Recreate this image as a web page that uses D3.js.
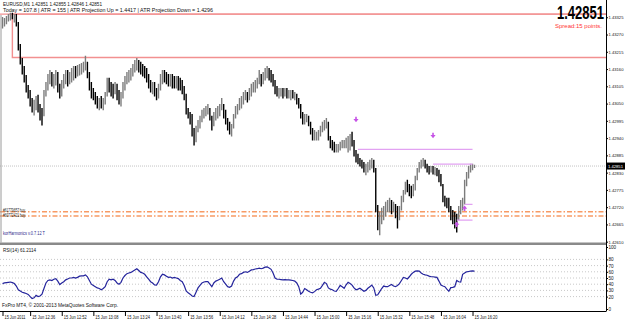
<!DOCTYPE html>
<html><head><meta charset="utf-8">
<script src="https://cdn.jsdelivr.net/npm/d3@7"></script>
<style>
html,body{margin:0;padding:0;background:#fff;}
svg{display:block;}
text{font-family:"Liberation Sans",Arial,sans-serif;}
</style></head>
<body>
<script>
// ---------- DATA ----------
const symbol = "EURUSD,M1";
const firstOpen = 1.43297;
const highs = [1.43326,1.43323,1.43329,1.43335,1.43339,1.43339,1.43335,1.43335,1.43310,1.43240,
1.43195,1.43170,1.43141,1.43109,1.43093,1.43068,1.43062,1.43074,1.43078,1.43049,
1.43036,1.43093,1.43119,1.43144,1.43157,1.43151,1.43144,1.43157,1.43151,1.43113,
1.43125,1.43144,1.43157,1.43157,1.43151,1.43163,1.43170,1.43170,1.43173,1.43176,
1.43179,1.43183,1.43202,1.43183,1.43151,1.43119,1.43100,1.43087,1.43074,1.43068,
1.43074,1.43068,1.43087,1.43132,1.43132,1.43119,1.43113,1.43119,1.43113,1.43093,
1.43087,1.43119,1.43138,1.43151,1.43157,1.43163,1.43176,1.43189,1.43195,1.43189,
1.43183,1.43176,1.43170,1.43163,1.43144,1.43125,1.43119,1.43119,1.43100,1.43113,
1.43144,1.43157,1.43157,1.43151,1.43144,1.43144,1.43144,1.43138,1.43138,1.43138,
1.43132,1.43125,1.43106,1.43081,1.43036,1.43023,1.43017,1.42972,1.42979,1.42998,
1.43011,1.43030,1.43036,1.43042,1.43049,1.43036,1.43011,1.43023,1.43036,1.43042,
1.43049,1.43068,1.43049,1.43030,1.43004,1.42992,1.42985,1.43017,1.43042,1.43049,
1.43068,1.43074,1.43087,1.43093,1.43087,1.43100,1.43113,1.43119,1.43125,1.43132,
1.43157,1.43144,1.43151,1.43163,1.43170,1.43163,1.43157,1.43144,1.43125,1.43106,
1.43100,1.43100,1.43100,1.43100,1.43100,1.43093,1.43093,1.43093,1.43087,1.43081,
1.43068,1.43049,1.43023,1.43017,1.43017,1.43011,1.42992,1.42972,1.42966,1.42960,
1.42966,1.42979,1.42992,1.42998,1.43004,1.42992,1.42947,1.42934,1.42928,1.42921,
1.42921,1.42928,1.42934,1.42934,1.42941,1.42947,1.42953,1.42960,1.42934,1.42902,
1.42890,1.42877,1.42871,1.42864,1.42858,1.42864,1.42871,1.42877,1.42871,1.42845,
1.42727,1.42705,1.42718,1.42724,1.42737,1.42743,1.42750,1.42743,1.42737,1.42730,
1.42724,1.42724,1.42756,1.42775,1.42801,1.42807,1.42794,1.42788,1.42794,1.42820,
1.42845,1.42864,1.42871,1.42877,1.42871,1.42858,1.42851,1.42851,1.42851,1.42848,
1.42845,1.42839,1.42826,1.42794,1.42756,1.42750,1.42750,1.42724,1.42711,1.42705,
1.42699,1.42724,1.42743,1.42750,1.42807,1.42832,1.42851,1.42858,1.42858,1.42855];
const lows = [1.43291,1.43297,1.43304,1.43313,1.43316,1.43320,1.43310,1.43297,1.43221,1.43176,
1.43144,1.43119,1.43087,1.43068,1.43042,1.43023,1.43014,1.43030,1.43023,1.42998,
1.42982,1.43011,1.43074,1.43093,1.43113,1.43106,1.43100,1.43109,1.43087,1.43068,
1.43074,1.43100,1.43113,1.43106,1.43113,1.43119,1.43125,1.43132,1.43138,1.43141,
1.43144,1.43151,1.43157,1.43132,1.43093,1.43068,1.43062,1.43049,1.43036,1.43030,
1.43036,1.43030,1.43049,1.43074,1.43087,1.43074,1.43068,1.43081,1.43062,1.43049,
1.43042,1.43068,1.43093,1.43113,1.43119,1.43125,1.43138,1.43151,1.43157,1.43151,
1.43144,1.43138,1.43132,1.43119,1.43100,1.43087,1.43081,1.43074,1.43062,1.43068,
1.43093,1.43113,1.43119,1.43113,1.43106,1.43106,1.43100,1.43100,1.43100,1.43093,
1.43093,1.43081,1.43062,1.43017,1.43004,1.42985,1.42947,1.42918,1.42928,1.42960,
1.42972,1.42992,1.43004,1.43011,1.43017,1.42998,1.42966,1.42979,1.42998,1.43004,
1.43011,1.43030,1.43004,1.42985,1.42966,1.42953,1.42947,1.42972,1.43004,1.43017,
1.43030,1.43036,1.43049,1.43062,1.43055,1.43062,1.43074,1.43087,1.43087,1.43100,
1.43113,1.43106,1.43113,1.43125,1.43132,1.43125,1.43119,1.43106,1.43081,1.43074,
1.43068,1.43074,1.43068,1.43074,1.43068,1.43068,1.43062,1.43068,1.43062,1.43049,
1.43036,1.43004,1.42985,1.42985,1.42992,1.42979,1.42953,1.42934,1.42934,1.42934,
1.42934,1.42947,1.42960,1.42966,1.42972,1.42934,1.42909,1.42902,1.42896,1.42896,
1.42896,1.42902,1.42909,1.42909,1.42909,1.42896,1.42902,1.42915,1.42883,1.42864,
1.42858,1.42851,1.42845,1.42832,1.42823,1.42832,1.42839,1.42845,1.42832,1.42705,
1.42648,1.42632,1.42667,1.42680,1.42692,1.42705,1.42705,1.42699,1.42705,1.42686,
1.42654,1.42680,1.42711,1.42737,1.42762,1.42769,1.42756,1.42750,1.42756,1.42775,
1.42807,1.42832,1.42845,1.42851,1.42845,1.42832,1.42826,1.42832,1.42826,1.42823,
1.42820,1.42801,1.42788,1.42737,1.42724,1.42718,1.42705,1.42680,1.42667,1.42654,
1.42641,1.42680,1.42699,1.42711,1.42730,1.42788,1.42813,1.42832,1.42839,1.42846];
const closes = [1.43304,1.43316,1.43323,1.43329,1.43332,1.43326,1.43332,1.43304,1.43237,1.43189,
1.43157,1.43132,1.43100,1.43081,1.43052,1.43036,1.43042,1.43062,1.43036,1.43023,
1.43017,1.43087,1.43106,1.43125,1.43138,1.43119,1.43132,1.43144,1.43100,1.43081,
1.43113,1.43132,1.43144,1.43125,1.43138,1.43151,1.43157,1.43151,1.43157,1.43163,
1.43167,1.43170,1.43183,1.43141,1.43106,1.43081,1.43074,1.43062,1.43049,1.43055,
1.43042,1.43062,1.43074,1.43119,1.43106,1.43100,1.43093,1.43106,1.43074,1.43062,
1.43068,1.43106,1.43125,1.43138,1.43144,1.43151,1.43163,1.43176,1.43183,1.43170,
1.43163,1.43157,1.43151,1.43132,1.43113,1.43100,1.43106,1.43087,1.43074,1.43100,
1.43132,1.43144,1.43138,1.43132,1.43125,1.43132,1.43125,1.43119,1.43125,1.43119,
1.43113,1.43100,1.43074,1.43030,1.43017,1.43011,1.42960,1.42934,1.42966,1.42985,
1.42998,1.43017,1.43023,1.43030,1.43036,1.43011,1.42979,1.43017,1.43023,1.43030,
1.43042,1.43055,1.43017,1.42998,1.42979,1.42966,1.42972,1.43011,1.43030,1.43042,
1.43062,1.43068,1.43074,1.43081,1.43074,1.43087,1.43100,1.43106,1.43113,1.43125,
1.43132,1.43125,1.43138,1.43151,1.43157,1.43144,1.43138,1.43119,1.43093,1.43087,
1.43087,1.43087,1.43081,1.43087,1.43081,1.43081,1.43081,1.43074,1.43074,1.43062,
1.43049,1.43017,1.42998,1.43004,1.43004,1.42992,1.42966,1.42947,1.42947,1.42947,
1.42953,1.42966,1.42979,1.42985,1.42992,1.42941,1.42921,1.42915,1.42909,1.42909,
1.42915,1.42921,1.42921,1.42928,1.42928,1.42934,1.42941,1.42934,1.42896,1.42883,
1.42871,1.42864,1.42858,1.42845,1.42845,1.42851,1.42858,1.42864,1.42839,1.42718,
1.42673,1.42686,1.42699,1.42705,1.42724,1.42724,1.42730,1.42718,1.42724,1.42699,
1.42686,1.42711,1.42750,1.42769,1.42788,1.42781,1.42775,1.42762,1.42781,1.42813,
1.42839,1.42851,1.42858,1.42864,1.42858,1.42845,1.42839,1.42845,1.42839,1.42839,
1.42832,1.42813,1.42801,1.42750,1.42737,1.42730,1.42718,1.42699,1.42686,1.42680,
1.42673,1.42711,1.42730,1.42737,1.42794,1.42820,1.42839,1.42851,1.42851,1.42851];
const rsi = [41,42,42.5,43,43.5,42.5,41,37,31,29,
27,26,25,23.5,20,17,18,22,20,21,
24,33,42,46,47,46,48,49,45,39.5,
42,44,47,48.5,50,50,51,50,51,53,
53.5,53.5,55,52,46,40,38,36,34,33,
31,33,36,44,48,47,48,46,42,40,
43,50,54,57,58,59,61,63,65,62,
59,58,56,52,48,44,42,39,38.5,44,
52,56,55,53,51,51.5,50,51,50,49,
46,44,38,29,26,24,21,20,27,34,
38,42,43.5,44,44,40,36,42,45,46.5,
48,50,44,40,36,35,37,45,50,52,
56,57,59,60,59,61,63,63.5,64.5,65,
66,65,66,67.5,68,66,64,58,50,48,
48,47.5,47,47.5,47,47,46.5,46,45,42,
36,24,27,33,31,28.5,27,26,28,31,
32,33.5,38,43,41,34,32,31,29,28.5,
33,38,36,33.5,39,43,41,38.5,34,31,
32,33.5,31,28.5,30,33.5,36,38.5,34,22,
23,28,33,37,36,36,38,39.5,37,36,
38,41,46,51,50,48.5,52,56,59,61,
61.5,61,58,56,55,54.5,53,52,52,51.5,
51,45,38.5,37,36,32,28.5,34.5,35,36,
46,44,43.5,56,58,60,60.5,61,61.5,61.2114];

const priceTicks = [1.43325,1.43270,1.43215,1.43160,1.43105,1.43050,1.42995,1.42940,1.42885,1.42830,1.42775,1.42720,1.42665,1.42610];
const rsiTicks = [100,80,70,60,50,40,30,20,0];
const rsiLevels = [80,70,60,50,40,30,20];
const timeTickIdx = [0,14,30,46,62,78,94,110,126,142,158,174,190,206,222,238];
const timeTickLabels = ["15 Jun 2011","15 Jun 12:36","15 Jun 12:52","15 Jun 13:08","15 Jun 13:24","15 Jun 13:40","15 Jun 13:56","15 Jun 14:12","15 Jun 14:28","15 Jun 14:44","15 Jun 15:00","15 Jun 15:16","15 Jun 15:32","15 Jun 15:48","15 Jun 16:04","15 Jun 16:20"];

const headerLine1 = "EURUSD,M1  1.42851 1.42855 1.42846 1.42851";
const headerLine2 = "Today = 107.8   |   ATR = 155   |   ATR Projection Up = 1.4417   |   ATR Projection Down = 1.4296";
const bigPrice = "1.42851";
const spreadText = "Spread:15 points.";
const rsiTitle = "RSI(14) 61.2114";
const copyright = "FxPro MT4, \u00A9 2001-2013 MetaQuotes Software Corp.";
const indicatorName = "korHarmonics v.0.7.12 T";
const orderLabels = ["#61779657 buy","#60772421 buy"];
const orderPrices = [1.42705,1.42692];
const dayHigh = 1.43335, boxLow = 1.43197, boxStartIdx = 5;
const purpleLines = [[180,238,1.42904],[218,238,1.42857],[234,238,1.42729],[230,238,1.42679]];
const arrowsDown = [[179,1.42998],[218,1.42947]];
const arrowsUp = [[234,1.42718],[230,1.42667]];

// ---------- LAYOUT ----------
const W = 625, H = 320, R = 606;
const mainBottom = 242.5, rsiTop = 245, axisY = 311;
const FONT = "Liberation Sans, Arial, sans-serif";

const svg = d3.select("body").append("svg").attr("width", W).attr("height", H);
svg.append("rect").attr("width", W).attr("height", H).attr("fill", "#fff");

const x = d3.scaleLinear().domain([0, 239]).range([2.5, 474.5]);
const y = d3.scaleLinear().domain([1.42609, 1.43380]).range([242, 0]);
const yr = d3.scaleLinear().domain([0, 100]).range([309, 247]);

const defs = svg.append("defs");
defs.append("clipPath").attr("id","mainClip").append("rect").attr("x",0).attr("y",0).attr("width",R).attr("height",mainBottom);
defs.append("clipPath").attr("id","rsiClip").append("rect").attr("x",0).attr("y",rsiTop).attr("width",R).attr("height",axisY-rsiTop);

const main = svg.append("g").attr("clip-path","url(#mainClip)");

// bid line
main.append("line").attr("x1",0).attr("x2",R).attr("y1",y(closes[239])).attr("y2",y(closes[239]))
  .attr("stroke","#c4c4c4").attr("stroke-width",1).attr("stroke-dasharray","1,1");

// red day-high line & rectangle
main.append("line").attr("x1",0).attr("x2",R).attr("y1",y(dayHigh)).attr("y2",y(dayHigh))
  .attr("stroke","#f29090").attr("stroke-width",1.4);
main.append("path")
  .attr("d",`M${R},${y(dayHigh)}H${x(boxStartIdx)}V${y(boxLow)}H${R}`)
  .attr("fill","none").attr("stroke","#f29090").attr("stroke-width",1.4);

// orange order lines
orderPrices.forEach(p => {
  main.append("line").attr("x1",0).attr("x2",R).attr("y1",y(p)).attr("y2",y(p))
    .attr("stroke","#f79a64").attr("stroke-width",1.5).attr("stroke-dasharray","5,2,1.5,2");
});

// bars
const bars = d3.range(closes.length).map(i => ({
  i, h: highs[i], l: lows[i], c: closes[i], o: i ? closes[i-1] : firstOpen
}));
main.append("g").selectAll("line").data(bars).join("line")
  .attr("x1", d => x(d.i)).attr("x2", d => x(d.i))
  .attr("y1", d => y(d.h)).attr("y2", d => y(d.l) + 0.5)
  .attr("stroke", d => d.c < d.o ? "#000" : "#7c7c7c")
  .attr("stroke-width", 1.4);

// purple harmonic lines
purpleLines.forEach(([a,b,p]) => {
  main.append("line").attr("x1",x(a)).attr("x2",x(b)).attr("y1",y(p)).attr("y2",y(p))
    .attr("stroke","#e2a2f2").attr("stroke-width",1.3);
});
const arrowPath = "M-0.8,-3.2h1.6v2.2h1.8l-2.6,3.4l-2.6,-3.4h1.8z";
arrowsDown.forEach(([i,p]) => main.append("path").attr("d",arrowPath)
  .attr("transform",`translate(${x(i)},${y(p)})`).attr("fill","#c653e6"));
arrowsUp.forEach(([i,p]) => main.append("path").attr("d",arrowPath)
  .attr("transform",`translate(${x(i)},${y(p)}) rotate(180)`).attr("fill","#c653e6"));

// left frame line
svg.append("line").attr("x1",1).attr("x2",1).attr("y1",15).attr("y2",mainBottom)
  .attr("stroke","#9a9a9a").attr("stroke-width",1);

// texts main
function txt(s, tx, ty, size, len, fill, weight) {
  const t = svg.append("text").attr("x",tx).attr("y",ty).attr("font-size",size)
    .attr("fill",fill||"#000").text(s);
  if (weight) t.attr("font-weight",weight);
  if (len) t.attr("textLength",len).attr("lengthAdjust","spacingAndGlyphs");
  return t;
}
txt(headerLine1, 3, 6, 5, 99, "#111");
txt(headerLine2, 3, 12, 5, 210, "#111");
// big bid price: condensed, tall digits
svg.append("text").attr("transform","translate(557,18.5) scale(1,1.38)")
  .attr("font-size",13).attr("font-weight","bold").attr("fill","#000")
  .attr("textLength",47).attr("lengthAdjust","spacingAndGlyphs").text(bigPrice);
txt(spreadText, 555, 27.5, 6, 47, "#ff3434");
orderLabels.forEach((s,k) => txt(s, 3, y(orderPrices[k]) + 0.2 + k*0.4, 4.5, 22, "#222"));
txt(indicatorName, 3, 235, 5, 42, "#2a2a8c");

// separator
svg.append("rect").attr("x",0).attr("y",mainBottom).attr("width",R).attr("height",2.5).attr("fill","#8a8a8a");

// RSI panel
const rg = svg.append("g").attr("clip-path","url(#rsiClip)");
rsiLevels.forEach(v => rg.append("line").attr("x1",0).attr("x2",R).attr("y1",yr(v)).attr("y2",yr(v))
  .attr("stroke","#c8c8c8").attr("stroke-width",1).attr("stroke-dasharray","1,2"));
rg.append("path").datum(rsi)
  .attr("d", d3.line().x((d,i) => x(i)).y(d => yr(d)))
  .attr("fill","none").attr("stroke","#24249c").attr("stroke-width",1.2);
txt(rsiTitle, 3, 251.5, 5, 33, "#111");
txt(copyright, 2, 307, 5, 116, "#111");

// price axis
const pa = svg.append("g").attr("transform",`translate(${R},0)`)
  .call(d3.axisRight(y).tickValues(priceTicks).tickSize(2).tickPadding(0.5).tickFormat(d3.format(".5f")));
pa.select(".domain").remove();
pa.selectAll("text").attr("font-size",4.3).attr("font-family",FONT)
  .attr("fill","#111").attr("textLength",15).attr("lengthAdjust","spacingAndGlyphs");
pa.selectAll("line").attr("stroke","#000");

// current price box
const cy = y(closes[239]);
svg.append("rect").attr("x",R+1).attr("y",cy-3.5).attr("width",18).attr("height",7).attr("fill","#000");
txt(bigPrice, R+2, cy+1.8, 4.3, 15, "#fff");

// rsi axis
const ra = svg.append("g").attr("transform",`translate(${R},0)`)
  .call(d3.axisRight(yr).tickValues(rsiTicks).tickSize(2).tickPadding(0.5).tickFormat(d3.format("d")));
ra.select(".domain").remove();
ra.selectAll("text").attr("font-size",4.6).attr("font-family",FONT).attr("fill","#111");
ra.selectAll("line").attr("stroke","#000");

// right frame & bottom axis
svg.append("line").attr("x1",R+0.5).attr("x2",R+0.5).attr("y1",0).attr("y2",axisY).attr("stroke","#000");
svg.append("line").attr("x1",0).attr("x2",R+0.5).attr("y1",axisY+0.5).attr("y2",axisY+0.5).attr("stroke","#000");

// time axis
const ta = svg.append("g").attr("transform",`translate(0,${axisY})`)
  .call(d3.axisBottom(x).tickValues(timeTickIdx).tickSize(5).tickFormat((d,k) => timeTickLabels[k]));
ta.select(".domain").remove();
ta.selectAll("line").attr("stroke","#000");
ta.selectAll("text").attr("font-size",5).attr("font-family",FONT)
  .attr("fill","#111").attr("text-anchor","start").attr("dx",1.5).attr("dy",0).attr("y",7.5)
  .attr("textLength",(d,k) => k === 0 ? 21 : 23).attr("lengthAdjust","spacingAndGlyphs");
</script>
</body></html>
